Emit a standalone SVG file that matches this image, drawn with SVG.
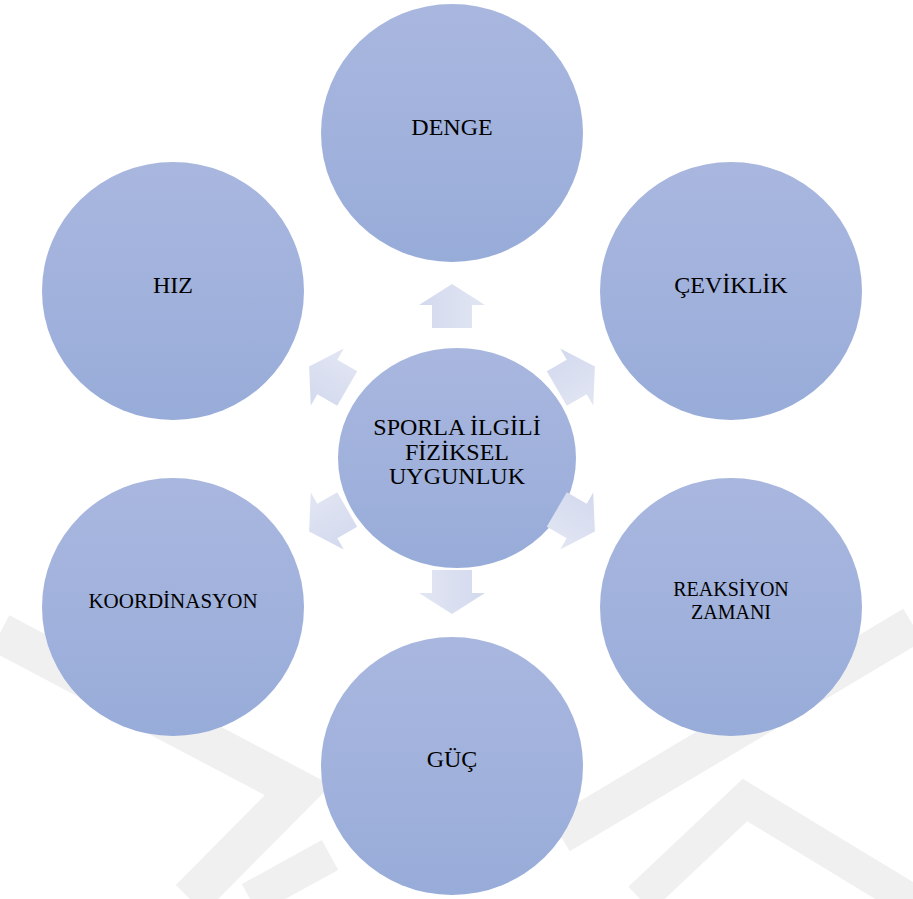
<svg xmlns="http://www.w3.org/2000/svg" width="913" height="899" viewBox="0 0 913 899">
  <defs>
    <linearGradient id="gC" x1="0" y1="0" x2="0" y2="1">
      <stop offset="0" stop-color="#a9b7df"/>
      <stop offset="1" stop-color="#98acd9"/>
    </linearGradient>
    <linearGradient id="gA" x1="0" y1="0" x2="1" y2="0">
      <stop offset="0" stop-color="#d3d9ee"/>
      <stop offset="1" stop-color="#e2e6f3"/>
    </linearGradient>
    <path id="arr" d="M0,-165 L33,-144 L20,-144 L20,-121 L-20,-121 L-20,-144 L-33,-144 Z"/>
  </defs>
  <style>
    .node { fill: url(#gC); }
    .lbl { font-family: "Liberation Serif", "Times New Roman", serif; font-size: 24px; fill: #000; text-anchor: middle; }
    .sm { font-size: 20px; }
    .wm { fill: none; stroke: #f0f0f0; stroke-linejoin: miter; }
    .arrow { fill: url(#gA); }
  </style>
  <rect width="913" height="899" fill="#ffffff"/>
  <g id="watermark" class="wm">
    <polyline points="0,633 298,790 190,899" stroke-width="40"/>
    <polyline points="250,899 330,855" stroke-width="34"/>
    <polyline points="560,835 913,625" stroke-width="38"/>
    <polyline points="640,899 745,800 913,902" stroke-width="34"/>
  </g>
  <g id="n-denge">
    <ellipse class="node" cx="452" cy="133" rx="131" ry="129"/>
    <text class="lbl" x="452" y="135">DENGE</text>
  </g>
  <g id="n-hiz">
    <ellipse class="node" cx="173" cy="291" rx="131" ry="129"/>
    <text class="lbl" x="173" y="293">HIZ</text>
  </g>
  <g id="n-ceviklik">
    <ellipse class="node" cx="731" cy="291" rx="131" ry="129"/>
    <text class="lbl" x="731" y="293">ÇEVİKLİK</text>
  </g>
  <g id="n-koordinasyon">
    <ellipse class="node" cx="173" cy="607" rx="131" ry="129"/>
    <text class="lbl" style="font-size:21px" x="173" y="608">KOORDİNASYON</text>
  </g>
  <g id="n-reaksiyon">
    <ellipse class="node" cx="731" cy="607" rx="131" ry="129"/>
    <text class="lbl sm" x="731" y="596">REAKSİYON</text>
    <text class="lbl sm" x="731" y="619">ZAMANI</text>
  </g>
  <g id="n-guc">
    <ellipse class="node" cx="452" cy="766" rx="131" ry="129"/>
    <text class="lbl" x="452" y="767">GÜÇ</text>
  </g>
  <g id="n-center">
    <ellipse class="node" cx="457" cy="458" rx="119" ry="110"/>
    <text class="lbl" x="457" y="435">SPORLA İLGİLİ</text>
    <text class="lbl" x="457" y="460">FİZİKSEL</text>
    <text class="lbl" x="457" y="484">UYGUNLUK</text>
  </g>
  <g id="connectors" class="arrow">
    <use href="#arr" transform="translate(452,449)"/>
    <use href="#arr" transform="translate(452,449) rotate(60)"/>
    <use href="#arr" transform="translate(452,449) rotate(120)"/>
    <use href="#arr" transform="translate(452,449) rotate(180)"/>
    <use href="#arr" transform="translate(452,449) rotate(240)"/>
    <use href="#arr" transform="translate(452,449) rotate(300)"/>
  </g>
</svg>
